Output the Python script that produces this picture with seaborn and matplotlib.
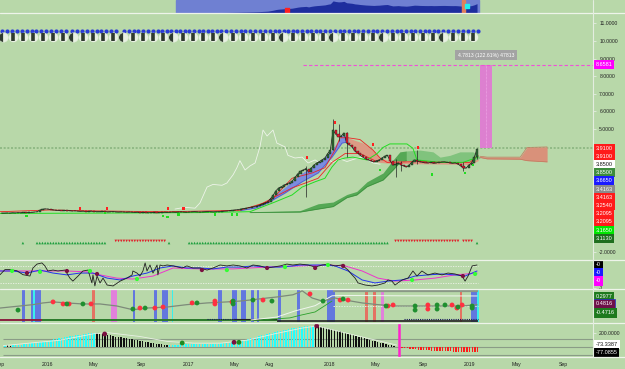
import numpy as np
import pandas as pd
import matplotlib
matplotlib.use("Agg")
import matplotlib.pyplot as plt
import matplotlib.transforms as mtrans
from matplotlib.lines import Line2D
from matplotlib.ticker import FormatStrFormatter
import seaborn as sns

# ---------------- data (x = weeks since 2015-09-14) ----------------
START = pd.Timestamp("2015-09-14")

close = [0.22, 0.22, 0.23, 0.22, 0.24, 0.23, 0.25, 0.24, 0.26, 0.25, 0.27, 0.26, 0.28, 0.30,
         0.38, 0.44, 0.46, 0.45, 0.42, 0.40, 0.38,
         0.37, 0.36, 0.37, 0.35, 0.36, 0.34, 0.35, 0.33, 0.32, 0.33,
         0.31, 0.32, 0.33, 0.31, 0.30, 0.31, 0.32, 0.30, 0.29, 0.30, 0.31, 0.29, 0.28, 0.29, 0.28, 0.27, 0.28,
         0.27, 0.26, 0.27, 0.25, 0.26, 0.25, 0.24, 0.25, 0.26, 0.24, 0.25, 0.26, 0.27, 0.26, 0.27,
         0.28, 0.27, 0.28, 0.29, 0.28, 0.27, 0.28, 0.29, 0.30, 0.29, 0.28, 0.29, 0.30, 0.31, 0.30, 0.29,
         0.30, 0.31, 0.32, 0.33, 0.34, 0.36, 0.38,
         0.40, 0.42, 0.45, 0.48, 0.50, 0.53, 0.56, 0.59,
         0.63, 0.68, 0.74, 0.80, 0.87,
         1.05, 1.25, 1.50, 1.65, 1.72, 1.82,
         1.88, 1.95, 2.05, 2.25, 2.45, 2.60,
         2.67, 2.75, 2.55, 2.78, 2.95, 3.07,
         3.15, 3.25, 3.35, 3.60, 3.80, 4.94,
         4.70, 4.55, 4.60, 4.77, 4.20, 4.10, 3.98,
         3.75, 3.64, 3.50, 3.40, 3.30, 3.24,
         3.18, 3.13, 3.20, 3.24, 3.35, 3.45, 3.50,
         3.20, 2.95, 3.00, 3.07, 2.95, 2.90, 2.84,
         2.95, 3.10, 3.24, 3.20, 3.13, 3.10, 3.08,
         3.07, 3.10, 3.05, 3.07, 3.10, 3.12, 3.13,
         3.10, 3.07, 3.05, 3.07, 3.00, 2.90, 2.78,
         2.78, 2.95, 3.07, 3.40, 3.85]

wick_w = [112, 122, 124, 127, 145, 147, 153, 170, 175]
wick_hi = [2.90, 5.55, 5.30, 4.85, 3.30, 3.20, 3.80, 3.10, 3.91]
wick_lo = [1.15, 3.80, 4.30, 3.40, 2.27, 2.60, 3.00, 2.60, 3.30]

red_up_w = [-0.6, 17.8, 28.8, 47.2, 62, 87.7, 98.8, 106.9, 114.3, 119, 122.7, 124.6, 127.5, 131.9,
            136.7, 139.3, 141.9, 154, 165, 172.4, 175.4]
red_up_p = [0.30, 0.40, 0.36, 0.32, 0.30, 0.38, 0.90, 2.2, 2.5, 2.8, 3.8, 4.5, 4.5, 4.4,
            3.8, 3.35, 3.1, 3.15, 3.1, 3.1, 3.5]
red_lo_w = [95.1, 106.9, 116.5, 121.6, 126.4, 131.9, 137.4]
red_lo_p = [0.70, 1.65, 2.2, 3.1, 3.6, 3.6, 3.2]
green_w = [-0.6, 36.2, 73.0, 91.4, 100.6, 106.9, 110.6, 115.4, 119.0, 121.6, 123.8, 126.4, 129.3,
           134.5, 138.2, 140.4, 142.9, 149.2, 151.4, 152.9, 161.4, 169.8, 175.4]
green_p = [0.20, 0.22, 0.25, 0.30, 0.85, 1.25, 1.7, 2.0, 2.2, 2.84, 3.24, 3.35, 3.4,
           3.24, 3.6, 3.95, 4.15, 4.15, 3.9, 3.24, 3.1, 3.1, 3.4]

rib_w = [87.7, 93.3, 98.0, 104.3, 110.6, 116.5, 121.6, 125.3, 127.5]
rib_hi = [0.40, 0.60, 0.95, 1.70, 2.50, 3.07, 3.80, 4.66, 4.50]
rib_lo = [0.36, 0.50, 0.80, 1.36, 2.00, 2.50, 3.40, 4.20, 4.26]
sal_w = [127.5, 130.1, 133.0, 136.7, 139.3, 142.9, 155, 165, 172.4, 175.4]
sal_hi = [4.50, 4.35, 4.20, 3.80, 3.35, 3.20, 3.15, 3.12, 3.10, 3.30]
sal_lo = [4.26, 3.90, 3.50, 3.20, 3.10, 3.05, 3.02, 3.00, 2.98, 3.20]

dg_w = [91.4, 109.8, 116.5, 122.0, 127.1, 130.7, 134.5, 140.4, 144.1, 146.6, 149.0]
dg_lo = [0.25, 0.28, 0.45, 0.59, 1.10, 1.25, 1.72, 2.10, 2.67, 3.10, 3.20]
dg_hi = [0.30, 0.36, 0.75, 0.85, 1.28, 1.45, 2.00, 2.50, 3.24, 3.70, 3.75]
lg_w = [149.0, 154.0, 158.8, 161.4, 165.0, 168.7, 173.5, 176.1]
lg_lo = [3.20, 3.15, 3.10, 3.10, 3.10, 3.10, 3.15, 3.35]
lg_hi = [3.75, 3.80, 3.70, 3.40, 3.50, 3.70, 3.70, 3.40]
fc_w = [176.1, 178.7, 190.9, 193.4, 200.8]
fc_lo = [3.38, 3.30, 3.28, 3.20, 3.13]
fc_hi = [3.45, 3.40, 3.40, 3.95, 3.98]

wl_w = [63.8, 67.4, 71.2, 73.0, 75.6, 77.8, 81.1, 82.9, 85.2, 86.6, 87.7, 89.6, 91.4, 93.3, 95.1, 96.2,
        97.7, 99.9, 101.3, 104.3, 105.4, 108.0, 110.6, 112.8, 115.4, 117.2, 119.8, 122.0, 124.6, 127.1,
        130.1, 133.0, 136.7, 139.3]
wl_p = [0.45, 0.55, 0.50, 0.80, 1.70, 1.85, 1.80, 1.93, 2.40, 2.80, 3.20, 2.67, 2.90, 3.07, 4.00, 4.94,
        4.60, 4.94, 4.20, 3.98, 3.50, 3.35, 3.40, 3.07, 3.24, 3.05, 3.30, 3.10, 3.30, 3.15,
        3.30, 3.40, 3.07, 3.00]

sig_red_w = [28.8, 38.8, 61.2, 66.8, 112.4, 122.7, 136.7, 153.3]
sig_red_p = [0.50, 0.50, 0.50, 0.50, 3.40, 5.36, 4.10, 3.95]
sig_grn_w = [9.0, 38.0, 59.4, 61.0, 65.0, 78.5, 84.8, 86.6, 139.3, 158.4, 170.6, 173.5]
sig_grn_p = [0.06, 0.23, 0.06, 0.00, 0.15, 0.15, 0.15, 0.12, 2.67, 2.40, 2.50, 2.95]

target_top = 8.6581
target_base = 3.91
target_w = (176.1, 180.4)
target_text = "4.7813 (122.61%) 47813"

tri_segments = [(7.8, 7.8, "up"), (12.6, 38.4, "up"), (41.4, 60.1, "dn"), (61.6, 61.6, "up"),
                (68.2, 142.2, "up"), (144.4, 168.0, "dn"), (169.5, 173.9, "dn"), (175.0, 175.0, "up")]
blue_groups = [(0.1, 23.7), (25.9, 42.1), (45.0, 60.9), (62.3, 79.3), (80.7, 100.6),
               (102.1, 119.0), (120.9, 140.0), (141.9, 159.2), (160.7, 175.4)]

main_tags = ["3.9100", "3.9100", "3.8500", "3.8500", "3.6650", "3.4163", "3.4163", "3.2540",
             "3.2095", "3.2095", "3.1650", "3.1130"]
main_tag_bg = ["#ff1a1a", "#ff1a1a", "#ffffff", "#3c8c3c", "#1a1aff", "#8c8c8c", "#ff1a1a",
               "#ff1a1a", "#ff1a1a", "#ff1a1a", "#00e600", "#1e6e1e"]

osc_black_w = [-0.6, 1.2, 3.1, 5.6, 7.8, 10.4, 11.5, 13.0, 14.8, 15.9, 17.0, 18.9, 20.7, 23.3, 25.1,
               26.2, 28.1, 29.9, 31.8, 33.2, 33.6, 34.3, 35.1, 36.2, 37.3, 38.8, 41.0, 43.6, 46.1,
               48.0, 48.3, 49.8, 50.9, 52.0, 52.8, 53.5, 54.6, 55.7, 57.2, 57.5, 58.3, 59.4, 60.9,
               63.1, 66.4, 68.2, 70.4, 73.0, 75.6, 77.8, 80.4, 82.9, 85.2, 87.7, 90.3, 92.5, 95.1,
               97.7, 99.9, 102.5, 105.0, 107.2, 109.8, 112.8, 115.4, 118.0, 120.1, 122.7, 125.3,
               127.5, 129.0, 130.1, 131.2, 133.8, 136.3, 138.5, 141.1, 142.2, 143.7, 144.8, 147.4,
               149.6, 151.4, 152.9, 154.7, 156.9, 159.5, 162.1, 164.3, 166.9, 169.5, 170.6, 171.7,
               173.2, 175.0]
osc_black_v = [-0.42, -0.20, -0.20, -0.25, -0.42, -0.48, -0.13, 0.04, 0.09, -0.04, -0.26, -0.22,
               -0.26, -0.22, -0.57, -0.70, -0.48, -0.26, -0.22, -0.78, -0.43, -0.91, -0.48, -0.78,
               -0.57, -0.87, -0.91, -0.70, -0.57, -0.43, -0.26, -0.35, -0.48, -0.26, 0.09, -0.26,
               0.00, -0.35, 0.00, -0.43, 0.00, -0.04, 0.00, -0.04, -0.13, -0.04, -0.13, -0.13,
               -0.22, -0.13, 0.00, -0.04, 0.00, -0.04, -0.13, 0.00, -0.04, -0.13, -0.09, -0.04,
               0.04, 0.00, 0.04, 0.00, -0.09, 0.00, 0.04, -0.04, 0.00, -0.22, -0.43, -0.57, -0.78,
               -0.87, -0.91, -0.87, -0.78, -0.65, -0.70, -0.87, -0.65, -0.57, -0.26, -0.48, -0.26,
               -0.43, -0.35, -0.43, -0.35, -0.39, -0.48, -0.70, -0.48, -0.04, 0.00]
osc_blue_w = [-0.6, 4.2, 9.3, 14.1, 18.9, 24.0, 28.8, 33.6, 38.8, 43.6, 48.3, 53.5, 58.3, 63.1, 68.2,
              73.0, 77.8, 82.9, 87.7, 92.5, 97.7, 102.5, 107.2, 109.8, 112.8, 118.0, 122.7, 127.5,
              132.7, 137.4, 142.2, 147.4, 152.2, 156.9, 162.1, 166.9, 170.6, 175.0]
osc_blue_v = [-0.26, -0.26, -0.35, -0.22, -0.35, -0.43, -0.35, -0.35, -0.57, -0.65, -0.48, -0.35,
              -0.13, -0.04, -0.13, -0.13, -0.17, -0.09, -0.09, -0.04, -0.09, -0.09, -0.04, 0.00,
              0.00, 0.00, -0.04, -0.26, -0.65, -0.78, -0.70, -0.65, -0.48, -0.43, -0.39, -0.43,
              -0.48, -0.26]
osc_mag_w = [-0.6, 11.5, 24.0, 31.4, 36.2, 42.4, 48.3, 55.7, 63.1, 73.0, 85.2, 97.7, 109.8, 120.1,
             126.4, 132.7, 138.5, 144.8, 152.2, 159.5, 166.9, 175.0]
osc_mag_v = [-0.26, -0.26, -0.26, -0.30, -0.43, -0.57, -0.61, -0.48, -0.13, -0.17, -0.17, -0.09,
             -0.04, 0.00, -0.04, -0.26, -0.57, -0.70, -0.65, -0.57, -0.43, -0.35]
osc_grn_w = [3.8, 14.1, 32.5, 49.8, 82.9, 104.3, 120.1, 151.1, 174.3]
osc_grn_v = [-0.26, -0.30, -0.26, -0.61, -0.22, -0.09, 0.00, -0.65, -0.39]
osc_mar_w = [9.3, 24.0, 35.1, 73.7, 97.7, 115.4, 125.7, 169.8]
osc_mar_v = [-0.35, -0.26, -0.39, -0.22, -0.13, -0.13, -0.04, -0.48]

band_start = [7.5, 10.8, 11.5, 12.3, 33.2, 40.2, 48.3, 56.1, 59.0, 62.7, 79.6, 84.8, 88.1, 91.8,
              94.0, 101.7, 108.7, 119.8, 133.8, 136.7, 139.7, 168.7, 172.8, 175.0]
band_end = [8.6, 11.5, 12.3, 14.5, 34.3, 42.4, 49.1, 57.2, 61.2, 63.1, 81.1, 86.6, 90.0, 92.9,
            94.7, 102.8, 109.8, 122.7, 134.9, 137.8, 140.8, 169.5, 175.0, 175.7]
band_kind = ["blue", "blue", "cyan", "blue", "red", "pink", "blue", "blue", "blue", "cyan", "blue",
             "blue", "blue", "blue", "blue", "blue", "blue", "blue", "red", "red", "pink", "red",
             "blue", "cyan"]
p3_gray_w = [-0.6, 11.5, 15.2, 18.9, 24.0, 29.9, 36.2, 42.4, 48.3, 53.5, 60.9, 68.2, 75.6, 82.9,
             87.7, 92.5, 97.7, 101.3, 107.2, 109.8, 110.6, 114.3, 118.0, 122.7, 126.4, 132.7,
             138.5, 144.8, 156.9, 169.5, 175.0]
p3_gray_v = [-0.12, 0.08, 0.18, 0.24, 0.18, 0.12, 0.12, 0.00, -0.22, -0.12, -0.06, 0.08, 0.18,
             0.24, 0.29, 0.37, 0.47, 0.53, 0.66, 0.82, 0.90, 0.47, 0.29, 0.47, 0.35, 0.18, 0.08,
             0.00, 0.00, 0.00, 0.08]
p3_white_w = [91.8, 101.3, 108.0, 115.4, 121.6, 124.6, 146.6, 175.0]
p3_white_v = [-0.82, -0.65, -0.29, 0.02, 0.60, 0.62, 0.60, 0.59]
p3_green_w = [95.1, 106.1, 109.8, 115.4, 121.6]
p3_green_v = [-0.82, -0.70, -0.55, -0.35, 0.29]
p3_red_w = [18.9, 22.6, 24.8, 32.9, 50.9, 56.4, 59.4, 70.1, 78.5, 78.5, 84.8, 96.2, 113.5, 124.6,
            127.5, 142.2, 144.1, 156.9, 156.9, 165.8, 167.6, 169.5]
p3_red_v = [0.24, 0.12, 0.12, 0.12, -0.12, -0.12, -0.06, 0.18, 0.29, 0.12, 0.24, 0.35, 0.71, 0.35,
            0.35, 0.00, 0.06, 0.06, -0.18, 0.06, -0.12, 0.06]
p3_grn_w = [6.0, 24.0, 29.9, 48.3, 52.8, 71.9, 85.2, 85.2, 92.5, 99.5, 118.3, 125.7, 141.5, 152.2,
            152.2, 160.3, 160.3, 163.2, 168.0, 173.2, 173.2]
p3_grn_v = [-0.24, 0.12, 0.12, -0.18, -0.12, 0.18, 0.29, 0.12, 0.35, 0.29, 0.29, 0.41, 0.00, 0.00,
            -0.24, 0.06, -0.18, 0.06, -0.06, 0.00, -0.12]

hist = [25, 22, 20, 24, 28,
        30, 35, 40, 45, 50, 55, 60, 65, 70, 78, 85, 92, 100, 108, 115, 122, 130, 138, 145, 152,
        158, 165, 172, 178, 184, 190, 195, 198, 200,
        196, 190, 184, 178, 172, 165, 158, 150, 143, 136, 129, 122, 115, 108, 101, 94, 87, 80, 73,
        66, 60, 54, 48, 42, 36, 30, 25,
        28, 30, 33, 35, 37, 38, 40, 40, 41, 42, 42, 43, 43, 43, 44, 44, 45, 46, 48, 50, 53, 56, 60, 65,
        70, 78, 86, 95, 105, 115, 125, 135, 145, 155, 165, 175, 185, 195, 205, 215, 225, 235, 243,
        250, 258, 265, 272, 278, 284, 289, 293, 296, 298, 300,
        298, 294, 288, 281, 273, 264, 255, 245, 235, 224, 213, 202, 191, 180, 169, 158, 147, 136,
        125, 114, 103, 92, 81, 70, 60, 50, 40, 31, 22, 14,
        6,
        -5, -10, -15, -20, -24, -28, -32, -36, -40, -43, -46, -49, -52, -54, -56, -58, -60, -62,
        -63, -64, -65, -66, -67, -68, -69, -70, -71, -72, -73, -77]
sig_w = [-0.6, 20, 33, 38, 50, 60, 70, 80, 90, 100, 110, 115.4, 125, 135, 145]
sig_v = [20, 95, 190, 205, 150, 80, 55, 55, 100, 190, 270, 300, 210, 118, 28]
h_mar_w = [36.9, 84.8, 115.4]
h_mar_v = [186, 67, 300]
h_grn_w = [65.6, 86.6]
h_grn_v = [57, 67]
cross_w = 145.9

tick_dates = ["2015-09-01", "2016-01-01", "2016-05-01", "2016-09-01", "2017-01-01", "2017-05-01",
              "2017-08-01", "2018-01-01", "2018-05-01", "2018-09-01", "2019-01-01", "2019-05-01",
              "2019-09-01"]
tick_labels = ["Sep", "2016", "May", "Sep", "2017", "May", "Aug", "2018", "May", "Sep", "2019",
               "May", "Sep"]

# ---------------- styling ----------------
sns.set_theme(style="white")
plt.rcParams["font.family"] = ["Liberation Sans", "DejaVu Sans"]

BG = "#b8d8a9"
W, H = 625, 369
FS = 3.7
fig = plt.figure(figsize=(W / 100, H / 100), dpi=100)
fig.patch.set_facecolor(BG)
XL = (-0.63, 217.7)


def add_ax(top, bottom, ylim):
    ax = fig.add_axes([0, 1 - bottom / H, 593 / W, (bottom - top) / H])
    ax.set_facecolor(BG)
    ax.set_xlim(*XL)
    ax.set_ylim(*ylim)
    for s in ax.spines.values():
        s.set_visible(False)
    ax.set_xticks([])
    ax.set_yticks([])
    ax.grid(False)
    return ax


def line(ax, x, y, color, lw=0.7, z=4):
    sns.lineplot(x=np.asarray(x, float), y=np.asarray(y, float), ax=ax, color=color, linewidth=lw,
                 sort=False, estimator=None, legend=False, zorder=z)


def dots(ax, x, y, color, s=9, marker="o", z=8, ec="none"):
    sns.scatterplot(x=np.asarray(x, float), y=np.asarray(y, float), ax=ax, color=color, s=s,
                    marker=marker, edgecolor=ec, linewidth=0.3, legend=False, zorder=z)


def tag(ax, yval, text, bg, fg="white", dy=0.0, fs=4.0, ec="none"):
    base = mtrans.blended_transform_factory(ax.transAxes, ax.transData)
    tr = mtrans.offset_copy(base, fig=fig, x=2.5, y=-dy, units="dots")
    ax.text(1.0, yval, text, transform=tr, ha="left", va="center", fontsize=fs, color=fg,
            bbox=dict(boxstyle="square,pad=0.38", fc=bg, ec=ec, lw=0.5), clip_on=False, zorder=30)


def right_ticks(ax, ticks, fmt):
    ax.yaxis.tick_right()
    ax.set_yticks(ticks)
    ax.yaxis.set_major_formatter(FormatStrFormatter(fmt))
    ax.tick_params(axis="y", length=2.5, width=0.6, color="#e4ede0", labelsize=FS,
                   labelcolor="#222222", pad=2)


tick_w = [(pd.Timestamp(d) - START).days / 7 for d in tick_dates]
wk = np.arange(len(close))
c = np.asarray(close)
o = np.r_[c[0], c[:-1]]

# ---------------- navigator strip ----------------
nav = add_ax(0, 13.3, (0, 5.3))
nav.axvspan(64.2, 175.7, color="#6f80d2", zorder=1)
nav.fill_between(wk[64:], 0, c[64:], color="#1e2e9e", zorder=2, lw=0)
nav.axvspan(169.3, 170.5, color="#e0805c", zorder=3)
nav.scatter([105], [1.3], marker="s", color="#ff2020", s=5, zorder=4)
nav.scatter([171.3], [2.9], marker="s", color="#22f0f0", s=8, zorder=4)

# ---------------- main price panel ----------------
main = add_ax(13.3, 259.5, (-2.415, 11.57))
right_ticks(main, [-2, 5, 6, 7, 8, 9, 10, 11], "%.4f")

main.axhline(target_base, color="#8ab580", lw=1.2, ls=(0, (1.2, 1.0)), zorder=1.5)
main.fill_between(dg_w, dg_lo, dg_hi, color="#55a855", lw=0, zorder=2)
line(main, dg_w, dg_lo, "#3c8f3c", lw=0.5, z=2.1)
main.fill_between(lg_w, lg_lo, lg_hi, color="#80c37d", lw=0, zorder=2)
main.fill_between(fc_w, fc_lo, fc_hi, color="#d9917a", lw=0, zorder=2)
line(main, fc_w, fc_hi, "#c07a5e", lw=0.5, z=2.1)
line(main, fc_w, fc_lo, "#c07a5e", lw=0.5, z=2.1)

line(main, wl_w, wl_p, "#eef4ea", lw=0.6, z=3)
main.fill_between(rib_w, rib_lo, rib_hi, color="#7b8ce0", lw=0, zorder=3.2)
line(main, rib_w, rib_lo, "#4a5ad0", lw=0.5, z=3.3)
main.fill_between(sal_w, sal_lo, sal_hi, color="#dc9a84", lw=0, zorder=3.2)
line(main, red_up_w, red_up_p, "#ee2222", lw=0.6, z=4)
line(main, red_lo_w, red_lo_p, "#ee2222", lw=0.6, z=4)
line(main, green_w, green_p, "#22dd22", lw=0.7, z=4)

# candles
line(main, wk, c, "#1a1a1a", lw=0.5, z=5)
main.vlines(wick_w, wick_lo, wick_hi, color="#222222", lw=0.5, zorder=5.5)
body_col = np.where(c >= o, "#2d6b35", "#e8182e")
main.bar(wk, np.abs(c - o), bottom=np.minimum(c, o), width=0.8, color=body_col,
         edgecolor="#101010", linewidth=0.25, zorder=6)

dots(main, sig_red_w, sig_red_p, "#ff2020", s=4, marker="s")
dots(main, sig_grn_w, sig_grn_p, "#22dd22", s=4, marker="s")

# target projection
main.fill_between(list(target_w), target_base, target_top, color="#dd80d0", lw=0, zorder=6.5)
main.vlines(np.mean(target_w), target_base, target_top, color="#f3b0ec", lw=0.5,
            linestyles=(0, (1, 1)), zorder=6.6)
main.hlines(target_top, 111, XL[1], color="#f050d8", lw=0.8, linestyles=(0, (3, 2)), zorder=6.5)
main.text(178.3, 9.2, target_text, ha="center", va="center", fontsize=FS, color="white",
          bbox=dict(boxstyle="square,pad=0.55", fc="#a3a3a3", ec="none"), zorder=9)

# top decorative rows
for a, b in blue_groups:
    n = int(round((b - a) / 1.77)) + 1
    main.plot(np.linspace(a, b, n), np.full(n, 10.57), "o", ms=3.0, color="#2a3bd6", mew=0, zorder=9)
moon_w = np.arange(0.4, 175.6, 3.68)
starts = [g[0] for g in blue_groups]
for k, mw in enumerate(moon_w):
    d = min(abs(mw - s) for s in starts)
    if d < 1.9:
        main.plot([mw], [10.21], "o", ms=6.8, fillstyle="left", markerfacecolor="#2f3a2f",
                  markerfacecoloralt="#e8f0e2", mec="#e8f0e2", mew=0.3, zorder=9)
    else:
        main.plot([mw], [10.21], "o", ms=6.8, color="#e8f0e2", mew=0, zorder=9)
        main.plot([mw], [10.21], "|", ms=6.0, mew=2.6, color="#2f3a2f", zorder=9.5)

# triangle row
for a, b, kind in tri_segments:
    xs = np.arange(np.ceil(a), np.floor(b) + 1) if b > a else np.array([a])
    if kind == "up":
        dots(main, xs, np.full(len(xs), -1.48), "#1f9f3f", s=3.5, marker="^")
    else:
        dots(main, xs, np.full(len(xs), -1.36), "#e0202a", s=3.5, marker="v")

tag(main, target_top, "8.6581", "#ff00ff")
for k, (t, bgc) in enumerate(zip(main_tags, main_tag_bg)):
    tag(main, target_base, t, bgc, fg="#111111" if bgc == "#ffffff" else "white", dy=8.2 * k)

# ---------------- oscillator panel ----------------
osc = add_ax(259.5, 289, (-1.043, 0.239))
right_ticks(osc, [-1], "%d")
osc.hlines([-0.04, -0.78], XL[0], 175.5, color="#eef4ea", lw=0.6, linestyles=(0, (1.5, 1.5)), zorder=1)
line(osc, osc_mag_w, osc_mag_v, "#ee33cc", lw=0.7)
line(osc, osc_blue_w, osc_blue_v, "#2233ee", lw=0.7)
line(osc, osc_black_w, osc_black_v, "#202020", lw=0.6)
dots(osc, osc_grn_w, osc_grn_v, "#33ff33", s=9)
dots(osc, osc_mar_w, osc_mar_v, "#7a1040", s=9)
for k, (t, bgc) in enumerate(zip(["-0", "-0", "-0"], ["#000000", "#1a1aff", "#ff00ff"])):
    tag(osc, 0.0, t, bgc, dy=8.0 * k)

# ---------------- band / trend panel ----------------
p3 = add_ax(289, 323, (-1, 1))
band_col = {"blue": "#5b6fe3", "cyan": "#2ef2f2", "red": "#e86a5c", "pink": "#e57ae0"}
for a, b, kind in zip(band_start, band_end, band_kind):
    p3.axvspan(a, b, ymin=0.03, ymax=0.97, color=band_col[kind], lw=0, alpha=0.92, zorder=1)
p3.hlines(0.88, 122, 175.5, color="#8a9886", lw=1.6, zorder=2)
p3.hlines(0.0, 122, 175.5, color="#dfeedd", lw=0.7, linestyles=(0, (1.5, 1.2)), zorder=2)
p3.hlines(-0.82, XL[0], 15, color="#8a2040", lw=1.4, zorder=2)
p3.hlines(-0.82, 15, 101.3, color="#2a7a2a", lw=1.4, zorder=2)
p3.hlines(-0.88, 101.3, 175.5, color="#222222", lw=1.2, zorder=2)
p3.hlines(-0.76, 85, 101.3, color="#222222", lw=0.8, zorder=2)
p3.hlines([-0.76, -0.76], [75.6, 148], [86.6, 175.5], color="#1a1a5a", lw=0.8,
          linestyles=(0, (1, 1)), zorder=2)
line(p3, p3_green_w, p3_green_v, "#2aa02a", lw=0.6, z=3)
line(p3, p3_white_w, p3_white_v, "#f0f6ee", lw=0.7, z=3)
line(p3, p3_gray_w, p3_gray_v, "#7d8a7a", lw=0.9, z=3.5)
dots(p3, p3_red_w, p3_red_v, "#ff3040", s=12)
dots(p3, p3_grn_w, p3_grn_v, "#1f8f2f", s=12)
tag(p3, 0.53, "0.2977", "#1e7a1e")
tag(p3, 0.12, "0.4816", "#6e1048", ec="#2233cc")
tag(p3, -0.41, "-0.4716", "#1e7a1e")

# ---------------- histogram panel ----------------
p4 = add_ax(323, 357, (-142.9, 342.9))
right_ticks(p4, [200], "%.4f")
hv = np.asarray(hist, float)
prev = np.r_[hv[0], hv[:-1]]
hcol = np.where(hv < 0, "#ff1a1a", np.where(hv >= prev, "#22ffff", "#111111"))
p4.hlines([114, 0, -114], XL[0], XL[1], color="#8a9c86", lw=0.8, zorder=1)
p4.bar(wk, hv, width=0.5, color=hcol, lw=0, zorder=3)
line(p4, sig_w, sig_v, "#e8f0e4", lw=0.6, z=4)
p4.vlines(cross_w, -142.9, 342.9, color="#ff22cc", lw=1.8, zorder=5)
dots(p4, h_mar_w, h_mar_v, "#7a1040", s=12)
dots(p4, h_grn_w, h_grn_v, "#1f8a1f", s=12)
tag(p4, -77.0855, "-73.3387", "#ffffff", fg="#111111", dy=-8.0)
tag(p4, -77.0855, "-77.0855", "#000000")
p4.set_xticks(tick_w)
p4.set_xticklabels(tick_labels)
p4.tick_params(axis="x", length=0, labelsize=FS, labelcolor="#222222", pad=3.5)

# ---------------- frame lines ----------------
for ypx in [13.3, 259.5, 289, 323, 357]:
    fig.add_artist(Line2D([0, 1], [1 - ypx / H] * 2, transform=fig.transFigure,
                          color="#eef4ea", lw=0.9, zorder=0.5))
fig.add_artist(Line2D([593 / W] * 2, [1 - 357 / H, 1], transform=fig.transFigure,
                      color="#e4ede0", lw=0.8))

fig.savefig("out.png", dpi=100, facecolor=BG)
